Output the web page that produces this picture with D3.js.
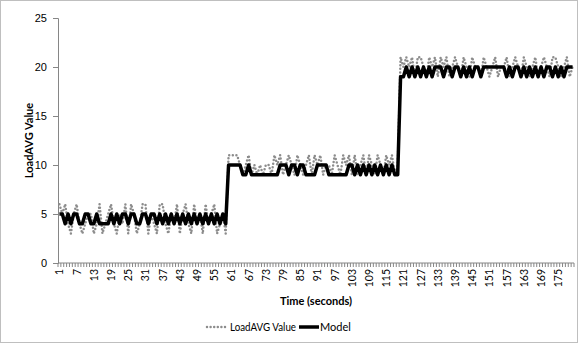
<!DOCTYPE html>
<html>
<head>
<meta charset="utf-8">
<script src="https://cdn.jsdelivr.net/npm/d3@7"></script>
<style>
  body { margin: 0; background: #fff; }
  svg { display: block; font-family: Lato, 'Open Sans', sans-serif; }
  .axis text { font-size: 11px; fill: #000; }
  .axis .domain, .axis line { stroke: #868686; }
</style>
</head>
<body>
<svg id="chart" width="578" height="343"></svg>
<script>
// LoadAVG readings, one per second, split by load phase
const loadPhase1 = [
  6, 5, 6, 4, 3, 5, 6, 4, 3, 4,
  5, 5, 3, 4, 6, 3, 4, 5, 6, 4,
  3, 5, 4, 6, 3, 6, 5, 3, 4, 6,
  6, 3, 5, 4, 3, 6, 6, 4, 3, 5,
  4, 6, 3, 5, 6, 4, 3, 6, 4, 5,
  3, 6, 4, 5, 6, 3, 4, 5, 3
]
const loadPhase2 = [
  11, 11, 11, 11, 10, 9, 10, 11, 9, 10,
  9, 10, 9, 10, 10, 9, 11, 10, 11, 9,
  10, 11, 10, 9, 11, 10, 9, 10, 11, 9,
  11, 10, 11, 9, 10, 10, 9, 11, 10, 9,
  11, 10, 11, 9, 11, 9, 10, 11, 9, 11,
  10, 9, 11, 10, 9, 11, 10, 11, 9, 10
]
const loadPhase3 = [
  21, 20, 21, 20, 21, 19, 21, 21, 20, 19,
  21, 20, 21, 19, 21, 20, 21, 19, 20, 21,
  20, 19, 21, 20, 19, 21, 20, 20, 19, 21,
  20, 19, 20, 21, 19, 20, 20, 21, 19, 20,
  21, 20, 19, 21, 20, 19, 20, 21, 19, 20,
  21, 20, 19, 21, 21, 20, 19, 20, 21, 19,
  20
]

// Model output for the same seconds
const modelPhase1 = [
  5, 5, 4, 5, 4, 5, 5, 4, 4, 5,
  5, 4, 4, 5, 4, 4, 4, 4, 5, 4,
  5, 4, 5, 5, 4, 5, 5, 4, 4, 5,
  5, 4, 5, 5, 4, 5, 4, 5, 4, 5,
  4, 5, 4, 5, 4, 5, 4, 5, 4, 5,
  4, 5, 4, 5, 4, 5, 4, 5, 4
]
const modelPhase2 = [
  10, 10, 10, 10, 10, 9, 9, 10, 9, 9,
  9, 9, 9, 9, 9, 9, 9, 9, 10, 10,
  10, 9, 10, 10, 9, 10, 10, 9, 9, 9,
  9, 10, 10, 10, 10, 9, 9, 9, 9, 9,
  9, 9, 10, 10, 9, 10, 9, 10, 9, 10,
  9, 10, 9, 10, 9, 10, 9, 10, 9, 9
]
const modelPhase3 = [
  19, 19, 20, 19, 20, 19, 20, 19, 20, 19,
  20, 19, 20, 20, 20, 19, 20, 20, 19, 20,
  20, 19, 20, 19, 20, 19, 20, 20, 19, 20,
  20, 20, 20, 20, 20, 20, 20, 19, 20, 19,
  20, 20, 19, 20, 19, 20, 19, 20, 19, 20,
  19, 20, 20, 19, 20, 19, 20, 19, 20, 20,
  20
]

const loadValues = [...loadPhase1, ...loadPhase2, ...loadPhase3]
const modelValues = [...modelPhase1, ...modelPhase2, ...modelPhase3]
const seconds = d3.range(1, loadValues.length + 1)

const xTickLabels = [1, 7, 13, 19, 25, 31, 37, 43, 49, 55, 61, 67, 73, 79, 85, 91, 97, 103,
  109, 115, 121, 127, 133, 139, 145, 151, 157, 163, 169, 175]
const yTicks = [0, 5, 10, 15, 20, 25]

const c = {
  width: 578,
  height: 343,
  margin: { left: 58, right: 4, top: 18, bottom: 80 },
  grey: '#8c8c8c',
}

const svg = d3.select('#chart')

// chart frame
svg.append('rect')
  .attr('x', 0.5).attr('y', 0.5)
  .attr('width', c.width - 1).attr('height', c.height - 1)
  .attr('fill', 'none')
  .attr('stroke', '#bfbfbf')

const xScale = d3.scaleBand(seconds, [c.margin.left, c.width - c.margin.right])
const cx = (s) => xScale(s) + xScale.bandwidth() / 2
const yScale = d3.scaleLinear([0, 25], [c.height - c.margin.bottom, c.margin.top])

// Y axis
svg.append('g')
  .attr('class', 'axis y-axis')
  .attr('transform', `translate(${ c.margin.left },0)`)
  .call(d3.axisLeft(yScale).tickValues(yTicks).tickSize(5).tickSizeOuter(5).tickPadding(6))

// X axis: minor marks between every second, labels every 6th
const xAxisEl = svg.append('g')
  .attr('class', 'axis x-axis')
  .attr('transform', `translate(0,${ yScale(0) })`)

xAxisEl.append('line')
  .attr('x1', c.margin.left).attr('x2', c.width - c.margin.right)
  .attr('y1', 0).attr('y2', 0)

xAxisEl.selectAll('line.tick')
  .data([...seconds, seconds.length + 1])
  .join('line')
  .classed('tick', true)
  .attr('x1', (d) => d <= seconds.length ? xScale(d) : xScale(seconds.length) + xScale.bandwidth())
  .attr('x2', (d) => d <= seconds.length ? xScale(d) : xScale(seconds.length) + xScale.bandwidth())
  .attr('y1', 0).attr('y2', 4)

xAxisEl.selectAll('text')
  .data(xTickLabels)
  .join('text')
  .attr('transform', (d) => `translate(${ cx(d) + 4 },6) rotate(-90)`)
  .attr('text-anchor', 'end')
  .style('font-size', '10.5px')
  .text((d) => d)

// axis titles
svg.append('text')
  .attr('x', (c.margin.left + c.width - c.margin.right) / 2)
  .attr('y', 305)
  .attr('text-anchor', 'middle')
  .attr('font-weight', 'bold')
  .attr('font-size', 11)
  .text('Time (seconds)')

svg.append('text')
  .attr('transform', `translate(33,${ yScale(12.5) }) rotate(-90)`)
  .attr('text-anchor', 'middle')
  .attr('font-weight', 'bold')
  .attr('font-size', 11)
  .text('LoadAVG Value')

// lines
const line = (values) => d3.line()
  .x((d, i) => cx(seconds[i]))
  .y((d) => yScale(d))(values)

svg.append('path')
  .attr('d', line(loadValues))
  .attr('fill', 'none')
  .attr('stroke', c.grey)
  .attr('stroke-width', 2.5)
  .attr('stroke-linecap', 'round')
  .attr('stroke-dasharray', '0 3.6')

svg.append('path')
  .attr('d', line(modelValues))
  .attr('fill', 'none')
  .attr('stroke', '#000')
  .attr('stroke-width', 3.5)
  .attr('stroke-linejoin', 'round')

// legend
const legend = svg.append('g').attr('transform', 'translate(0,327)')
legend.append('line')
  .attr('x1', 207).attr('x2', 228).attr('y1', 0).attr('y2', 0)
  .attr('stroke', c.grey).attr('stroke-width', 2.5)
  .attr('stroke-linecap', 'round').attr('stroke-dasharray', '0 3.6')
legend.append('text')
  .attr('x', 230).attr('y', 4).attr('font-size', 11)
  .attr('textLength', 66).attr('lengthAdjust', 'spacingAndGlyphs')
  .text('LoadAVG Value')
legend.append('line')
  .attr('x1', 299).attr('x2', 319).attr('y1', 0).attr('y2', 0)
  .attr('stroke', '#000').attr('stroke-width', 3.5)
legend.append('text')
  .attr('x', 320).attr('y', 4).attr('font-size', 11)
  .text('Model')
</script>
</body>
</html>
